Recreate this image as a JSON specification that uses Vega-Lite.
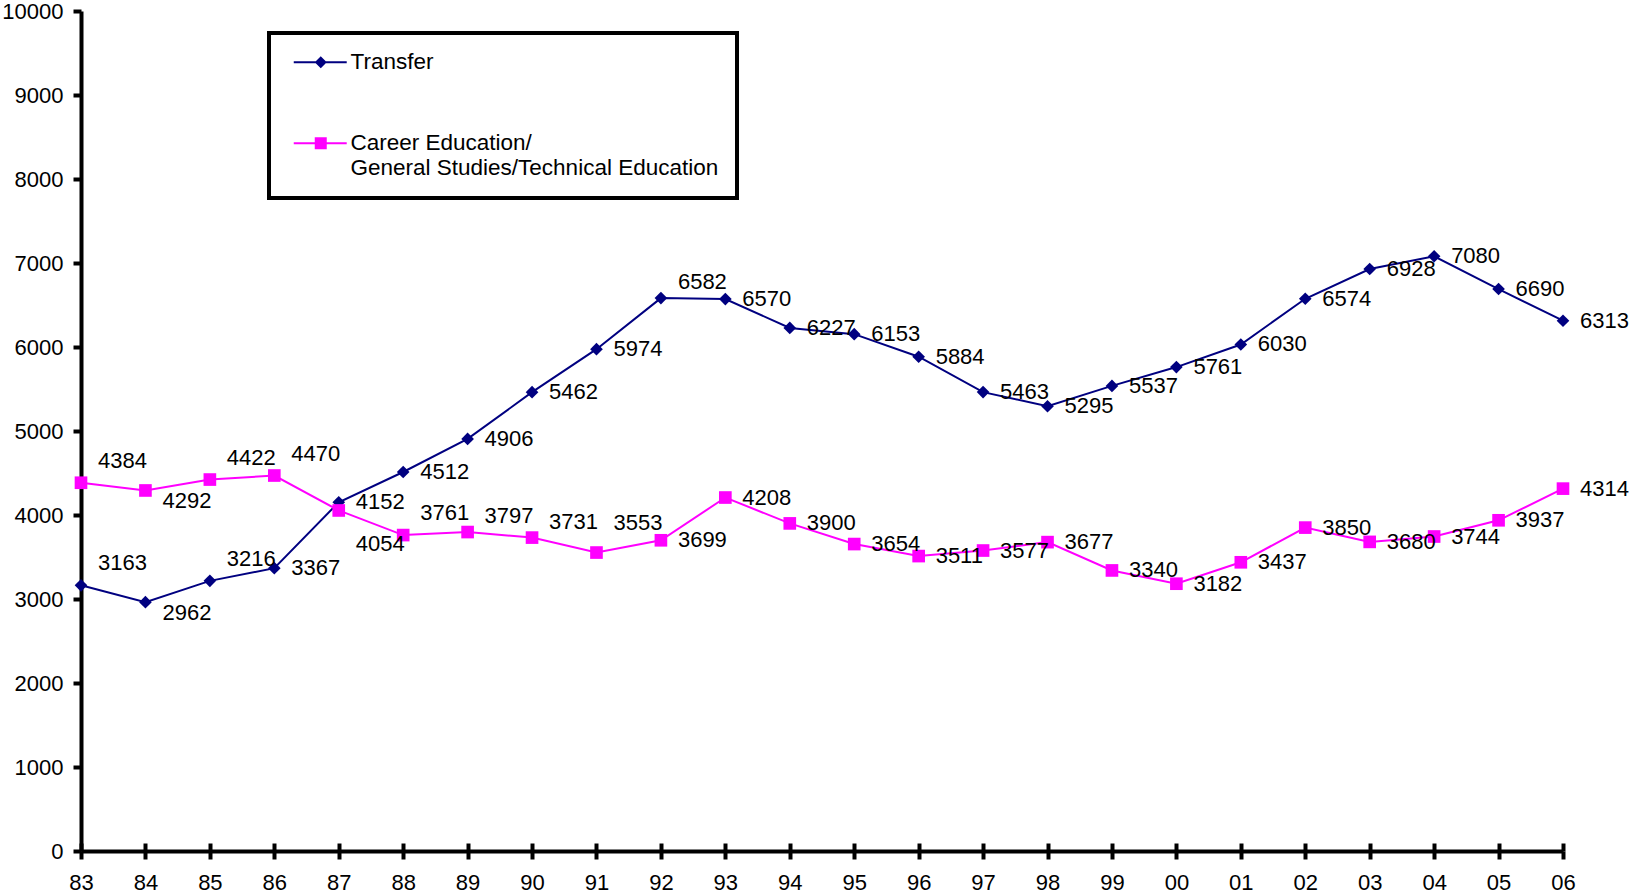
{
  "$schema": "https://vega.github.io/schema/vega-lite/v6.json",
  "width": 1482,
  "height": 840,
  "autosize": "none",
  "padding": {"left": 81, "top": 11, "right": 68, "bottom": 45},
  "background": "white",
  "config": {
    "view": {"stroke": null},
    "font": "Liberation Sans",
    "axis": {
      "grid": false,
      "domainColor": "black",
      "domainWidth": 4,
      "tickColor": "black",
      "tickWidth": 4,
      "tickSize": 8,
      "labelFont": "Liberation Sans",
      "labelFontSize": 22,
      "labelColor": "black",
      "title": null
    },
    "legend": {"strokeWidth": 4}
  },
  "data": {
    "values": [
      {"year": "83", "series": "Transfer", "value": 3163},
      {"year": "84", "series": "Transfer", "value": 2962},
      {"year": "85", "series": "Transfer", "value": 3216},
      {"year": "86", "series": "Transfer", "value": 3367},
      {"year": "87", "series": "Transfer", "value": 4152},
      {"year": "88", "series": "Transfer", "value": 4512},
      {"year": "89", "series": "Transfer", "value": 4906},
      {"year": "90", "series": "Transfer", "value": 5462},
      {"year": "91", "series": "Transfer", "value": 5974},
      {"year": "92", "series": "Transfer", "value": 6582},
      {"year": "93", "series": "Transfer", "value": 6570},
      {"year": "94", "series": "Transfer", "value": 6227},
      {"year": "95", "series": "Transfer", "value": 6153},
      {"year": "96", "series": "Transfer", "value": 5884},
      {"year": "97", "series": "Transfer", "value": 5463},
      {"year": "98", "series": "Transfer", "value": 5295},
      {"year": "99", "series": "Transfer", "value": 5537},
      {"year": "00", "series": "Transfer", "value": 5761},
      {"year": "01", "series": "Transfer", "value": 6030},
      {"year": "02", "series": "Transfer", "value": 6574},
      {"year": "03", "series": "Transfer", "value": 6928},
      {"year": "04", "series": "Transfer", "value": 7080},
      {"year": "05", "series": "Transfer", "value": 6690},
      {"year": "06", "series": "Transfer", "value": 6313},
      {"year": "83", "series": "Career", "value": 4384},
      {"year": "84", "series": "Career", "value": 4292},
      {"year": "85", "series": "Career", "value": 4422},
      {"year": "86", "series": "Career", "value": 4470},
      {"year": "87", "series": "Career", "value": 4054},
      {"year": "88", "series": "Career", "value": 3761},
      {"year": "89", "series": "Career", "value": 3797},
      {"year": "90", "series": "Career", "value": 3731},
      {"year": "91", "series": "Career", "value": 3553},
      {"year": "92", "series": "Career", "value": 3699},
      {"year": "93", "series": "Career", "value": 4208},
      {"year": "94", "series": "Career", "value": 3900},
      {"year": "95", "series": "Career", "value": 3654},
      {"year": "96", "series": "Career", "value": 3511},
      {"year": "97", "series": "Career", "value": 3577},
      {"year": "98", "series": "Career", "value": 3677},
      {"year": "99", "series": "Career", "value": 3340},
      {"year": "00", "series": "Career", "value": 3182},
      {"year": "01", "series": "Career", "value": 3437},
      {"year": "02", "series": "Career", "value": 3850},
      {"year": "03", "series": "Career", "value": 3680},
      {"year": "04", "series": "Career", "value": 3744},
      {"year": "05", "series": "Career", "value": 3937},
      {"year": "06", "series": "Career", "value": 4314}
    ]
  },
  "encoding": {
    "x": {
      "field": "year",
      "type": "ordinal",
      "scale": {"type": "point", "padding": 0, "domain": ["83","84","85","86","87","88","89","90","91","92","93","94","95","96","97","98","99","00","01","02","03","04","05","06"]}
    },
    "y": {
      "field": "value",
      "type": "quantitative",
      "scale": {"domain": [0, 10000], "nice": false, "zero": true},
      "axis": {"values": [0,1000,2000,3000,4000,5000,6000,7000,8000,9000,10000], "format": "d", "labelPadding": 10, "title": null}
    }
  },
  "resolve": {
    "scale": {"x": "shared", "shape": "independent"},
    "axis": {"x": "independent"},
    "legend": {"color": "independent", "shape": "independent"}
  },
  "layer": [
    {
      "mark": {"type": "line", "strokeWidth": 2},
      "encoding": {
        "x": {"field": "year", "type": "ordinal", "axis": {"orient": "bottom", "labelAngle": 0, "labelPadding": 13, "title": null}},
        "color": {"field": "series", "type": "nominal", "scale": {"domain": ["Transfer", "Career"], "range": ["#000080", "#FF00FF"]}, "legend": null}
      }
    },
    {
      "mark": {"type": "point", "filled": true, "size": 160, "opacity": 1, "strokeWidth": 1},
      "encoding": {
        "x": {"field": "year", "type": "ordinal", "axis": {"orient": "bottom", "offset": -8, "labels": false, "domain": false, "tickSize": 8, "title": null}},
        "color": {"field": "series", "type": "nominal", "scale": {"domain": ["Transfer", "Career"], "range": ["#000080", "#FF00FF"]}, "legend": null},
        "shape": {"field": "series", "type": "nominal", "scale": {"domain": ["Transfer", "Career"], "range": ["diamond", "square"]}, "legend": null}
      }
    },
    {
      "transform": [{"filter": "false"}],
      "mark": {"type": "point", "filled": true, "size": 144, "opacity": 1, "strokeWidth": 0},
      "encoding": {
        "x": {"field": "year", "type": "ordinal", "axis": null},
        "color": {
          "field": "series", "type": "nominal",
          "scale": {"domain": ["Transfer", "Career"], "range": ["#000080", "#FF00FF"]},
          "legend": {
            "orient": "none", "legendX": 188, "legendY": 22,
            "title": null, "strokeColor": "black", "padding": 18, "fillColor": "white",
            "labelFont": "Liberation Sans", "labelFontSize": 22.5, "labelColor": "black",
            "labelOffset": 41, "symbolSize": 144, "symbolStrokeWidth": 0, "symbolOpacity": 1,
            "rowPadding": 58, "labelLimit": 700,
            "labelExpr": "datum.label == 'Transfer' ? 'Transfer' : ['Career Education/', 'General Studies/Technical Education']",
            "encode": {"labels": {"lineHeight": {"value": 26}}}
          }
        },
        "shape": {
          "field": "series", "type": "nominal",
          "scale": {"domain": ["Transfer", "Career"], "range": ["M-0.75,-0.17H8.08V0.17H-0.75Z M3.75,-1L4.75,0L3.75,1L2.75,0Z", "M-0.75,-0.17H8.08V0.17H-0.75Z M2.75,-1H4.75V1H2.75Z"]},
          "legend": {
            "orient": "none", "legendX": 188, "legendY": 22,
            "title": null, "strokeColor": "black", "padding": 18, "fillColor": "white",
            "labelFont": "Liberation Sans", "labelFontSize": 22.5, "labelColor": "black",
            "labelOffset": 41, "symbolSize": 144, "symbolStrokeWidth": 0, "symbolOpacity": 1,
            "rowPadding": 58, "labelLimit": 700,
            "labelExpr": "datum.label == 'Transfer' ? 'Transfer' : ['Career Education/', 'General Studies/Technical Education']",
            "encode": {"labels": {"lineHeight": {"value": 26}}}
          }
        }
      }
    },
    {
      "transform": [{"filter": "indexof(['T83','T85','C83','C85','C86','C88'], (datum.series == 'Transfer' ? 'T' : 'C') + datum.year) >= 0"}],
      "mark": {"type": "text", "align": "left", "baseline": "middle", "dx": 17, "dy": -22, "fontSize": 22, "font": "Liberation Sans", "color": "black"},
      "encoding": {"x": {"field": "year", "type": "ordinal", "axis": null}, "text": {"field": "value", "type": "quantitative", "format": "d"}}
    },
    {
      "transform": [{"filter": "indexof(['T92','C89','C90'], (datum.series == 'Transfer' ? 'T' : 'C') + datum.year) >= 0"}],
      "mark": {"type": "text", "align": "left", "baseline": "middle", "dx": 17, "dy": -16, "fontSize": 22, "font": "Liberation Sans", "color": "black"},
      "encoding": {"x": {"field": "year", "type": "ordinal", "axis": null}, "text": {"field": "value", "type": "quantitative", "format": "d"}}
    },
    {
      "transform": [{"filter": "indexof(['C91'], (datum.series == 'Transfer' ? 'T' : 'C') + datum.year) >= 0"}],
      "mark": {"type": "text", "align": "left", "baseline": "middle", "dx": 17, "dy": -30, "fontSize": 22, "font": "Liberation Sans", "color": "black"},
      "encoding": {"x": {"field": "year", "type": "ordinal", "axis": null}, "text": {"field": "value", "type": "quantitative", "format": "d"}}
    },
    {
      "transform": [{"filter": "indexof(['T84','C84'], (datum.series == 'Transfer' ? 'T' : 'C') + datum.year) >= 0"}],
      "mark": {"type": "text", "align": "left", "baseline": "middle", "dx": 17, "dy": 11, "fontSize": 22, "font": "Liberation Sans", "color": "black"},
      "encoding": {"x": {"field": "year", "type": "ordinal", "axis": null}, "text": {"field": "value", "type": "quantitative", "format": "d"}}
    },
    {
      "transform": [{"filter": "indexof(['C87'], (datum.series == 'Transfer' ? 'T' : 'C') + datum.year) >= 0"}],
      "mark": {"type": "text", "align": "left", "baseline": "middle", "dx": 17, "dy": 34, "fontSize": 22, "font": "Liberation Sans", "color": "black"},
      "encoding": {"x": {"field": "year", "type": "ordinal", "axis": null}, "text": {"field": "value", "type": "quantitative", "format": "d"}}
    },
    {
      "transform": [{"filter": "indexof(['T83','T85','C83','C85','C86','C88','T92','C89','C90','C91','T84','C84','C87'], (datum.series == 'Transfer' ? 'T' : 'C') + datum.year) < 0"}],
      "mark": {"type": "text", "align": "left", "baseline": "middle", "dx": 17, "dy": 0, "fontSize": 22, "font": "Liberation Sans", "color": "black"},
      "encoding": {"x": {"field": "year", "type": "ordinal", "axis": null}, "text": {"field": "value", "type": "quantitative", "format": "d"}}
    }
  ]
}
